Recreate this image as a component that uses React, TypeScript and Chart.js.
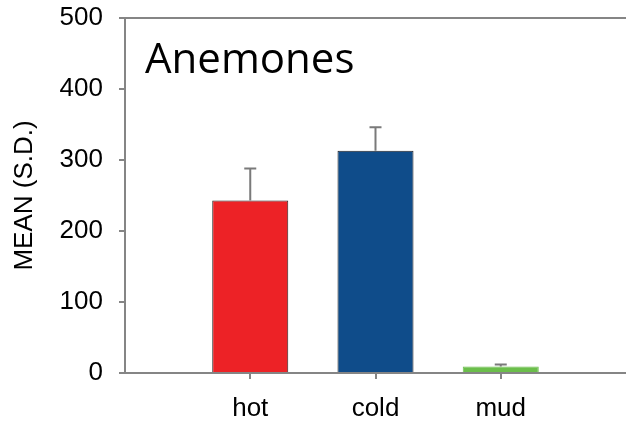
import React, { useEffect, useRef } from 'react';
import { Chart, registerables } from 'chart.js';

Chart.register(...registerables);

// Site categories (blank slots pad the axis on both sides)
const categories = ['', 'hot', 'cold', 'mud', ''];
// Mean counts and standard deviations per site
const meanValues: (number | null)[] = [null, 243, 313, 9, null];
const sdValues: (number | null)[] = [null, 45, 33, 3, null];
const barColors = ['rgba(0,0,0,0)', '#ED2226', '#0F4C8A', '#6BBE4B', 'rgba(0,0,0,0)'];
const barEdgeColors = ['rgba(0,0,0,0)', '#231F20', '#231F20', '#6BBE4B', 'rgba(0,0,0,0)'];
const yTicks = [0, 100, 200, 300, 400, 500];

const chartTitle = 'Anemones';
const yAxisTitle = 'MEAN (S.D.)';

const AXIS_GRAY = '#858585';
const AXIS_FONT = { family: '"Liberation Sans", Arial, sans-serif', size: 26 };

// Upward error bars (mean + SD) with a small cap
const errorBars = {
  id: 'errorBars',
  afterDatasetsDraw(chart: Chart) {
    const meta = chart.getDatasetMeta(0);
    const yScale = chart.scales.y;
    const ctx = chart.ctx;
    ctx.save();
    ctx.strokeStyle = '#7A7A7A';
    ctx.lineWidth = 2;
    meta.data.forEach((bar: any, i: number) => {
      const m = meanValues[i];
      const s = sdValues[i];
      if (m == null || s == null) return;
      const x = bar.x;
      const yBase = yScale.getPixelForValue(m);
      const yTop = yScale.getPixelForValue(m + s);
      ctx.beginPath();
      ctx.moveTo(x, yBase);
      ctx.lineTo(x, yTop);
      ctx.moveTo(x - 6, yTop);
      ctx.lineTo(x + 6, yTop);
      ctx.stroke();
    });
    ctx.restore();
  },
};

// Panel label written inside the plot area
const panelLabel = {
  id: 'panelLabel',
  afterDraw(chart: Chart) {
    const { ctx, chartArea } = chart;
    ctx.save();
    ctx.fillStyle = '#000';
    ctx.font = '42px "Open Sans", sans-serif';
    ctx.textAlign = 'left';
    ctx.textBaseline = 'alphabetic';
    ctx.fillText(chartTitle, chartArea.left + 20, chartArea.top + 55);
    ctx.restore();
  },
};

export default function App() {
  const canvasRef = useRef<HTMLCanvasElement | null>(null);

  useEffect(() => {
    if (!canvasRef.current) return;
    const chart = new Chart(canvasRef.current, {
      type: 'bar',
      data: {
        labels: categories,
        datasets: [
          {
            data: meanValues,
            backgroundColor: barColors,
            borderColor: barEdgeColors,
            borderWidth: 1,
            categoryPercentage: 1,
            barPercentage: 0.607,
          },
        ],
      },
      options: {
        responsive: false,
        animation: false,
        layout: { padding: 0 },
        plugins: {
          legend: { display: false },
          tooltip: { enabled: false },
          title: { display: false },
        },
        scales: {
          x: {
            type: 'category',
            position: 'bottom',
            offset: false,
            grid: {
              offset: false,
              drawOnChartArea: false,
              drawTicks: true,
              tickLength: 6,
              lineWidth: 2,
              color: (c: any) => (c.index === 0 || c.index === categories.length - 1 ? 'rgba(0,0,0,0)' : AXIS_GRAY),
            },
            border: { display: true, color: AXIS_GRAY, width: 2 },
            ticks: {
              autoSkip: false,
              maxRotation: 0,
              color: '#000',
              font: AXIS_FONT,
              padding: 14,
            },
            afterFit: (scale: any) => {
              scale.height = 52;
              scale.paddingLeft = 0;
              scale.paddingRight = 0;
            },
          },
          xTop: {
            type: 'category',
            position: 'top',
            offset: false,
            grid: { display: false, drawTicks: false },
            border: { display: true, color: AXIS_GRAY, width: 2 },
            ticks: { display: false },
            afterFit: (scale: any) => {
              scale.height = 18;
              scale.paddingLeft = 0;
              scale.paddingRight = 0;
            },
          },
          y: {
            type: 'linear',
            min: 0,
            max: 500,
            afterBuildTicks: (scale: any) => {
              scale.ticks = yTicks.map((v) => ({ value: v }));
            },
            grid: {
              drawOnChartArea: false,
              drawTicks: true,
              tickLength: 6,
              lineWidth: 2,
              color: AXIS_GRAY,
            },
            border: { display: true, color: AXIS_GRAY, width: 2 },
            ticks: {
              color: '#000',
              font: AXIS_FONT,
              padding: 16,
            },
            title: {
              display: true,
              text: yAxisTitle,
              color: '#000',
              font: AXIS_FONT,
              padding: { top: 9, bottom: 0 },
            },
            afterFit: (scale: any) => {
              scale.width = 125;
              scale.paddingTop = 0;
              scale.paddingBottom = 0;
            },
          },
        },
      },
      plugins: [errorBars, panelLabel],
    });
    return () => chart.destroy();
  }, []);

  return (
    <div style={{ position: 'fixed', left: 0, top: 0, width: 626, height: 425, background: '#fff' }}>
      <canvas ref={canvasRef} width={626} height={425} />
    </div>
  );
}
